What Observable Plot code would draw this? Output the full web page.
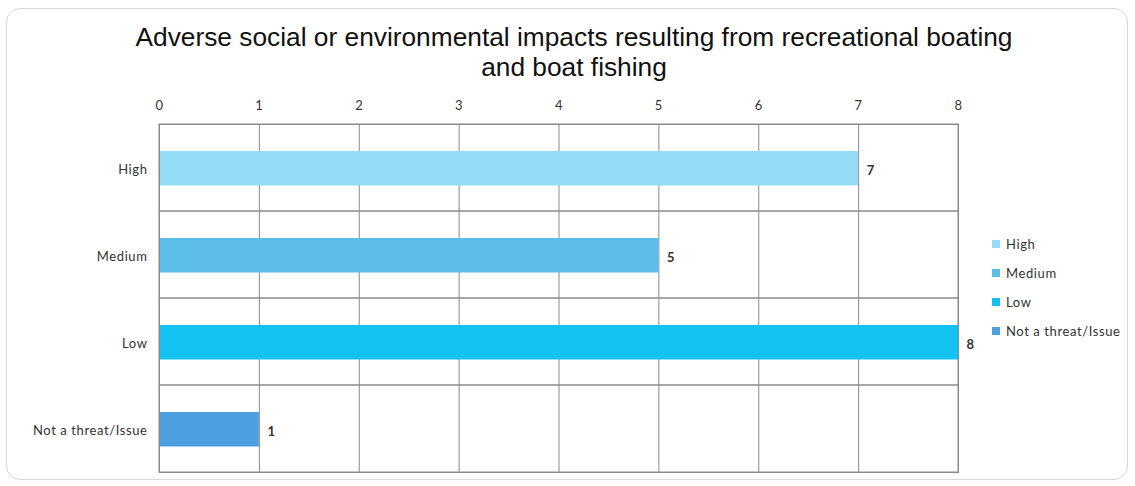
<!DOCTYPE html>
<html>
<head>
<meta charset="utf-8">
<script src="https://cdn.jsdelivr.net/npm/d3@7"></script>
<script src="https://cdn.jsdelivr.net/npm/@observablehq/plot@0.6"></script>
<style>
  html, body { margin: 0; padding: 0; background: #fff; }
  #wrap { position: relative; width: 1135px; height: 486px; overflow: hidden; }
  #border { position: absolute; left: 6px; top: 8px; width: 1122px; height: 472px;
            border: 1px solid #d8d8d8; border-radius: 14px; box-sizing: border-box; }
  #title { position: absolute; left: 0; top: 22px; width: 1148px; text-align: center;
           font-family: "Liberation Sans", Arial, sans-serif; font-size: 26.3px; line-height: 30px; color: #111; }
  #chart { position: absolute; left: 0; top: 90px; }
  #legend { position: absolute; left: 992px; top: 229px; font-family: Lato, "Open Sans", sans-serif;
            font-size: 13px; letter-spacing: 0.6px; color: #333; }
  #legend .item { display: flex; align-items: center; height: 29px; }
  #legend .sw { width: 8px; height: 8px; margin-right: 6px; }
</style>
</head>
<body>
<div id="wrap">
  <div id="border"></div>
  <div id="title">Adverse social or environmental impacts resulting from recreational boating<br>and boat fishing</div>
  <div id="chart"></div>
  <div id="legend"></div>
</div>
<script>
const categories = ["High", "Medium", "Low", "Not a threat/Issue"];
const values = [7, 5, 8, 1];
const colors = ["#95dcf7", "#5bbde8", "#14c2f2", "#4d9fe0"];
const xTicks = [0, 1, 2, 3, 4, 5, 6, 7, 8];

const data = categories.map((c, i) => ({category: c, value: values[i]}));
const xMin = xTicks[0], xMax = xTicks[xTicks.length - 1];

const chart = Plot.plot({
  width: 1135,
  height: 396,
  marginLeft: 159,
  marginRight: 177,
  marginTop: 34,
  marginBottom: 14,
  style: {fontFamily: "Lato, 'Open Sans', sans-serif", fontSize: "13px", color: "#333", background: "transparent", letterSpacing: "0.6px"},
  x: {domain: [xMin, xMax], ticks: xTicks, axis: null},
  y: {domain: categories, padding: 0, axis: null},
  color: {domain: categories, range: colors},
  marks: [
    Plot.gridX(xTicks, {stroke: "#8a8a8a", strokeOpacity: 1, strokeWidth: 1}),
    Plot.barX(categories, {x1: xMin, x2: xMax, y: d => d, fill: "none", stroke: "#8a8a8a", strokeWidth: 1}),
    Plot.barX(data, {x: "value", y: "category", fill: "category", insetTop: 27, insetBottom: 25.5}),
    Plot.axisX(xTicks, {anchor: "top", tickSize: 0, tickPadding: 15, label: null, tickFormat: d => String(d)}),
    Plot.axisY(categories, {anchor: "left", tickSize: 0, tickPadding: 12, label: null, dy: 2}),
    Plot.text(data, {x: "value", y: "category", text: d => String(d.value), textAnchor: "start", dx: 8, dy: 3, fill: "#333", fontWeight: "bold", fontSize: 13}),
    Plot.frame({stroke: "#8a8a8a"})
  ]
});
document.getElementById("chart").appendChild(chart);

const legend = document.getElementById("legend");
categories.forEach((c, i) => {
  const item = document.createElement("div");
  item.className = "item";
  const sw = document.createElement("span");
  sw.className = "sw";
  sw.style.background = colors[i];
  const lab = document.createElement("span");
  lab.textContent = c;
  item.appendChild(sw);
  item.appendChild(lab);
  legend.appendChild(item);
});
</script>
</body>
</html>
